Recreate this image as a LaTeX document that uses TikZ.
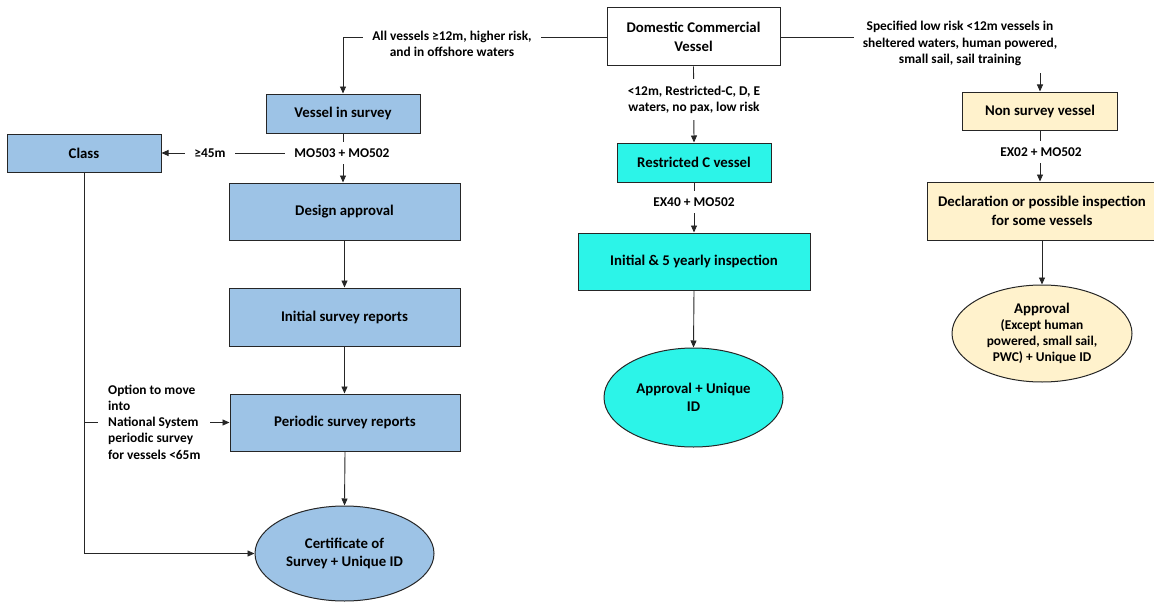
\documentclass[tikz,border=0pt]{standalone}
\usepackage{fontspec}
\setmainfont{Carlito}
\usetikzlibrary{arrows.meta,shapes.geometric}
\definecolor{bluefill}{RGB}{157,195,230}
\definecolor{cyanfill}{RGB}{44,244,232}
\definecolor{yelfill}{RGB}{255,242,204}
\tikzset{
  base/.style={draw=black!85, line width=1pt, inner sep=2pt, align=center,
    font=\bfseries\fontsize{14.8}{18.5}\selectfont},
  bluebox/.style={base, fill=bluefill},
  cyanbox/.style={base, fill=cyanfill},
  yelbox/.style={base, fill=yelfill},
  whitebox/.style={base, fill=white},
  oval/.style={ellipse, inner sep=0pt},
  lbl/.style={fill=white, inner xsep=9pt, inner ysep=7pt, align=center,
    font=\bfseries\fontsize{13.4}{16.2}\selectfont},
  conn/.style={draw=black!85, line width=0.9pt},
  arr/.style={conn, -{Triangle[length=7pt,width=6pt]}}
}
\begin{document}
\begin{tikzpicture}[x=1pt,y=-1pt]
\useasboundingbox (0,0) rectangle (1154,602);
% nodes
\node[whitebox, minimum width=173pt, minimum height=58pt] (dcv) at (693.5,37) {Domestic Commercial\\Vessel};
\node[bluebox, minimum width=154pt, minimum height=39pt] (vis) at (343,113.5) {Vessel in survey};
\node[bluebox, minimum width=154pt, minimum height=38pt] (cls) at (84,153) {Class};
\node[bluebox, minimum width=231pt, minimum height=57pt] (des) at (344.5,211.5) {Design approval};
\node[bluebox, minimum width=231pt, minimum height=58pt] (isr) at (344.5,317) {Initial survey reports};
\node[bluebox, minimum width=230pt, minimum height=57pt] (psr) at (345,422.5) {Periodic survey reports};
\node[bluebox, oval, minimum width=179pt, minimum height=95pt] (cert) at (344.5,553.5) {Certificate of\\Survey + Unique ID};
\node[cyanbox, minimum width=154pt, minimum height=39pt] (rc) at (694,162.5) {Restricted C vessel};
\node[cyanbox, minimum width=232pt, minimum height=57pt] (ini) at (694,261.5) {Initial \& 5 yearly inspection};
\node[cyanbox, oval, minimum width=179pt, minimum height=99pt] (app) at (693.5,397.5) {Approval + Unique\\ID};
\node[yelbox, minimum width=155pt, minimum height=38pt] (nsv) at (1040,111) {Non survey vessel};
\node[yelbox, minimum width=230pt, minimum height=58pt] (decl) at (1042,211) {Declaration or possible inspection\\for some vessels};
\node[yelbox, oval, minimum width=180pt, minimum height=97pt, font=\bfseries\fontsize{13.4}{16.2}\selectfont] (app2) at (1042,333.5) {{\fontsize{14.8}{16.2}\selectfont Approval}\\(Except human\\powered, small sail,\\PWC) + Unique ID};
% connectors
\draw[arr] (dcv.west) -| (vis.north);
\draw[arr] (dcv.east) -| (nsv.north);
\draw[arr] (dcv.south) -- (rc.north);
\draw[arr] (vis.south) -- (vis.south |- des.north);
\draw[arr] (vis.south |- cls.east) -- (cls.east);
\draw[arr] (rc.south) -- (rc.south |- ini.north);
\draw[arr] (ini.south) -- (app.north);
\draw[arr] (nsv.south) -- (nsv.south |- decl.north);
\draw[arr] (decl.south) -- (app2.north);
\draw[arr] (des.south) -- (des.south |- isr.north);
\draw[arr] (isr.south) -- (isr.south |- psr.north);
\draw[arr] (psr.south) -- (cert.north);
\draw[arr] (cls.south) |- (cert.west);
\coordinate (br) at (cls.south |- psr.west);
\draw[arr] (br) -- (psr.west);
% labels
\node[lbl] (l1) at (452,43.5) {All vessels ≥12m, higher risk,\\and in offshore waters};
\node[lbl] (l2) at (960,43.5) {Specified low risk <12m vessels in\\sheltered waters, human powered,\\small sail, sail training};
\node[lbl] (l3) at (694,99.5) {<12m, Restricted-C, D, E\\waters, no pax, low risk};
\node[lbl] (l4) at (342,153) {MO503 + MO502};
\node[lbl] (l5) at (210,153) {≥45m};
\node[lbl] (l6) at (694,202) {EX40 + MO502};
\node[lbl] (l7) at (1041,152) {EX02 + MO502};
\node[lbl, align=left, anchor=west, inner xsep=10pt, inner ysep=0pt] (l8) at (98,422) {Option to move\\into\\National System\\periodic survey\\for vessels <65m};
\end{tikzpicture}
\end{document}
